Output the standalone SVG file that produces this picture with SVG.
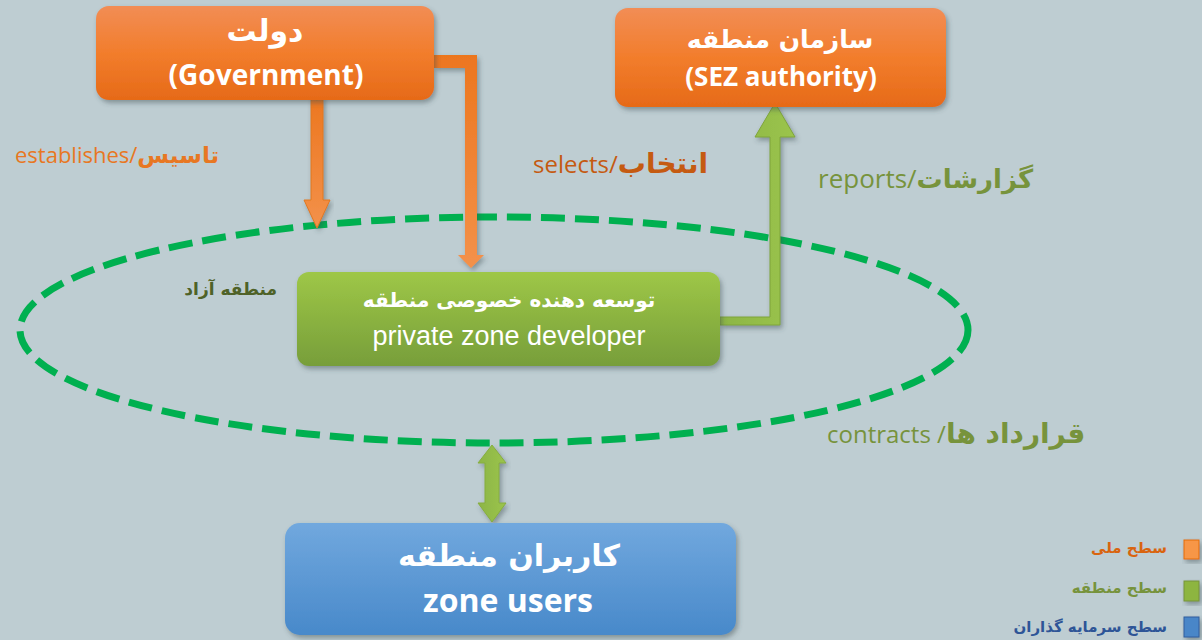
<svg xmlns="http://www.w3.org/2000/svg" width="1202" height="640" viewBox="0 0 1202 640">
<defs>
<linearGradient id="gOrange" x1="0" y1="0" x2="0" y2="1">
<stop offset="0" stop-color="#F28D55"/><stop offset="0.5" stop-color="#F27D2C"/><stop offset="1" stop-color="#E66A18"/>
</linearGradient>
<linearGradient id="gGreen" x1="0" y1="0" x2="0" y2="1">
<stop offset="0" stop-color="#9EC747"/><stop offset="1" stop-color="#779E3A"/>
</linearGradient>
<linearGradient id="gBlue" x1="0" y1="0" x2="0" y2="1">
<stop offset="0" stop-color="#71A8DE"/><stop offset="1" stop-color="#4889CA"/>
</linearGradient>
<linearGradient id="gArrowO" x1="0" y1="0" x2="0" y2="1">
<stop offset="0" stop-color="#EC761F"/><stop offset="1" stop-color="#F3914A"/>
</linearGradient>
<linearGradient id="gArrowG" x1="0" y1="0" x2="1" y2="0">
<stop offset="0" stop-color="#8CB545"/><stop offset="1" stop-color="#9BC44D"/>
</linearGradient>
<filter id="sh" x="-10%" y="-10%" width="125%" height="135%">
<feDropShadow dx="2" dy="3" stdDeviation="2.5" flood-color="#3a4a50" flood-opacity="0.45"/>
</filter>
<style>
.fa{font-family:"DejaVu Sans",sans-serif;font-weight:bold}
.en{font-family:"Open Sans","Liberation Sans",sans-serif}
.w{fill:#FFFFFF}
</style>
</defs>
<rect width="1202" height="640" fill="#BECDD2"/>

<g id="connectors">
<ellipse cx="494" cy="330" rx="474" ry="113" fill="none" stroke="#00B050" stroke-width="7" stroke-dasharray="24 10"/>
<polygon filter="url(#sh)" points="311,93 317,101 323,93 323,200 330,200 317,228 304,200 311,200" fill="url(#gArrowO)" stroke="#E0781F" stroke-width="1"/>
<polygon filter="url(#sh)" points="434,55 477,55 477,255 484,255 471,268 458,255 465,255 465,68 434,68" fill="url(#gArrowO)"/>
<polygon filter="url(#sh)" points="720,317 770,317 770,137 755,137 775,103 795,137 780,137 780,325 720,325" fill="url(#gArrowG)" stroke="#7FA43A" stroke-width="1"/>
<polygon filter="url(#sh)" points="492,445 506,463 499,463 499,503 506,503 492,522 478,503 485,503 485,463 478,463" fill="url(#gArrowG)" stroke="#86AE3F" stroke-width="1"/>
</g>

<g id="government">
<rect x="96" y="6" width="338" height="94" rx="13" fill="url(#gOrange)" filter="url(#sh)"/>
<text x="265" y="41" class="fa w" font-size="30" text-anchor="middle">دولت</text>
<text x="266" y="85" class="en w" font-size="28" font-weight="bold" text-anchor="middle">(Government)</text>
</g>

<g id="sez-authority">
<rect x="615" y="8" width="331" height="99" rx="13" fill="url(#gOrange)" filter="url(#sh)"/>
<text x="780" y="48" class="fa w" font-size="25" text-anchor="middle">سازمان منطقه</text>
<text x="781" y="86" class="en w" font-size="26" font-weight="bold" text-anchor="middle">(SEZ authority)</text>
</g>

<g id="developer">
<rect x="297" y="272" width="423" height="94" rx="12" fill="url(#gGreen)" filter="url(#sh)"/>
<text x="509" y="307" class="fa w" font-size="20" text-anchor="middle">توسعه دهنده خصوصی منطقه</text>
<text x="509" y="345" font-family="Liberation Sans, Arial, sans-serif" font-size="27" class="w" text-anchor="middle">private zone developer</text>
</g>

<g id="zone-users">
<rect x="285" y="523" width="451" height="112" rx="15" fill="url(#gBlue)" filter="url(#sh)"/>
<text x="509" y="566" class="fa w" font-size="30" text-anchor="middle">کاربران منطقه</text>
<text x="508" y="612" class="en w" font-size="32" font-weight="bold" text-anchor="middle">zone users</text>
</g>

<g id="free-zone-label">
<text x="277" y="295" class="fa" font-size="17" fill="#4F6228" text-anchor="end">منطقه آزاد</text>
</g>

<g id="labels">
<text x="15" y="163" class="en" font-size="22" fill="#E87722">establishes/<tspan class="fa" font-size="23">تاسیس</tspan></text>
<text x="533" y="173" class="en" font-size="24" fill="#C55A11">selects/<tspan class="fa" font-size="28">انتخاب</tspan></text>
<text x="818" y="188" class="en" font-size="26" fill="#77933C">reports/<tspan class="fa" font-size="26">گزارشات</tspan></text>
<text x="827" y="443" class="en" font-size="24" fill="#77933C">contracts /<tspan class="fa" font-size="28">قرارداد ها</tspan></text>
</g>

<g id="legend">
<rect x="1184" y="540" width="15" height="19" fill="#F79646" stroke="#E46C0A" stroke-width="1" filter="url(#sh)"/>
<rect x="1184" y="581" width="15" height="20" fill="#8DB53F" stroke="#77933C" stroke-width="1" filter="url(#sh)"/>
<rect x="1184" y="617" width="15" height="20" fill="#4A86C8" stroke="#2E5C9E" stroke-width="1" filter="url(#sh)"/>
<text x="1167" y="553" class="fa" font-size="15" fill="#D9640F" text-anchor="end">سطح ملی</text>
<text x="1167" y="593" class="fa" font-size="15" fill="#77933C" text-anchor="end">سطح منطقه</text>
<text x="1167" y="632" class="fa" font-size="15" fill="#2E5597" text-anchor="end">سطح سرمایه گذاران</text>
</g>
</svg>
